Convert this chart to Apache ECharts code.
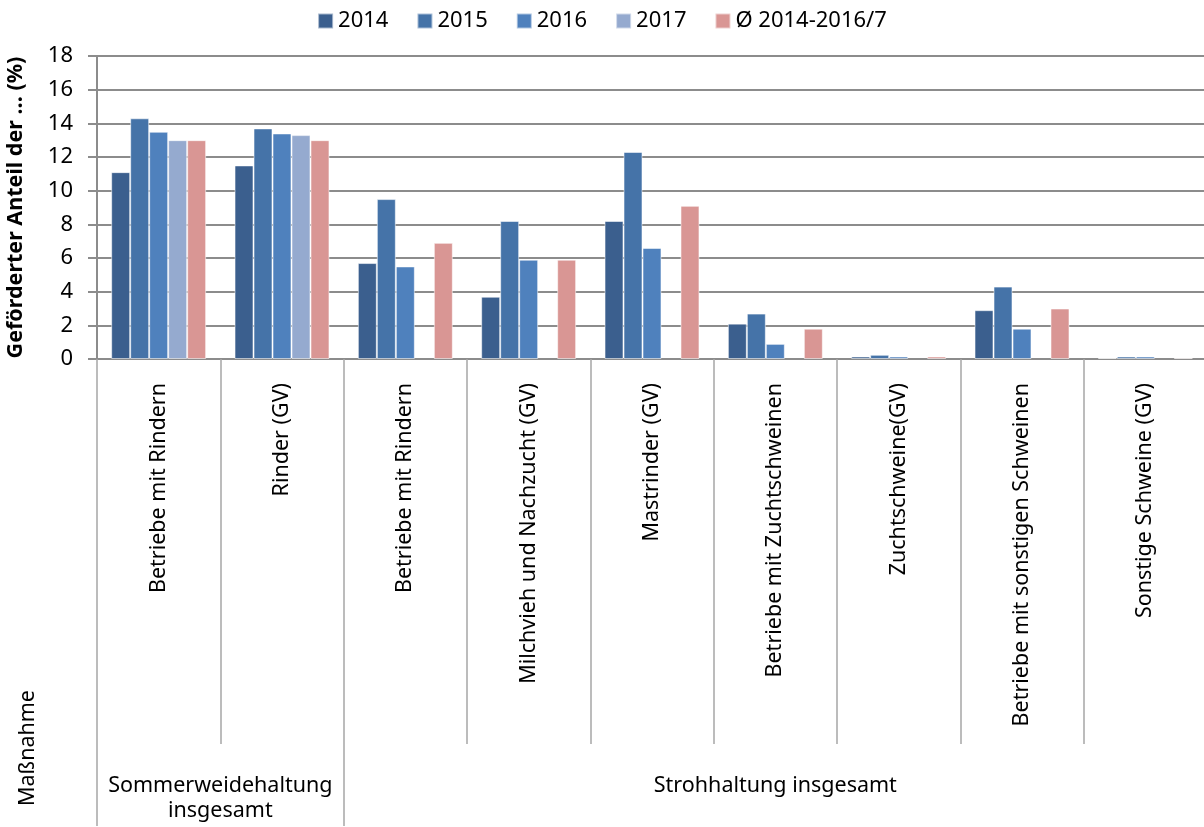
<!DOCTYPE html>
<html>
<head>
<meta charset="utf-8">
<script src="https://cdn.jsdelivr.net/npm/echarts@6/dist/echarts.min.js"></script>
<style>
  html, body { margin: 0; padding: 0; background: #fff; }
  #chart { width: 1204px; height: 827px; }
</style>
</head>
<body>
<div id="chart"></div>
<script>
  var categories = ['Betriebe mit Rindern', 'Rinder (GV)', 'Betriebe mit Rindern', 'Milchvieh und Nachzucht (GV)',
    'Mastrinder (GV)', 'Betriebe mit Zuchtschweinen', 'Zuchtschweine(GV)', 'Betriebe mit sonstigen Schweinen',
    'Sonstige Schweine (GV)'];
  var seriesNames = ['2014', '2015', '2016', '2017', 'Ø 2014-2016/7'];
  var v2014 = [11.1, 11.5, 5.7, 3.7, 8.2, 2.1, 0.15, 2.9, 0.06];
  var v2015 = [14.3, 13.7, 9.5, 8.2, 12.3, 2.7, 0.25, 4.3, 0.15];
  var v2016 = [13.5, 13.4, 5.5, 5.9, 6.6, 0.9, 0.15, 1.8, 0.15];
  var v2017 = [13.0, 13.3, null, null, null, null, null, null, null];
  var vAvg = [13.0, 13.0, 6.9, 5.9, 9.1, 1.8, 0.15, 3.0, 0.07];
  var groupNames = ['Sommerweidehaltung\ninsgesamt', 'Strohhaltung insgesamt'];
  var groupBounds = [0, 2, 9];
  var colors = ['#3B5F8E', '#4573A8', '#4F81BD', '#95AACF', '#D99694'];

  var fontFamily = 'Noto Sans, sans-serif';
  var gray = '#8c8c8c';

  var myChart = echarts.init(document.getElementById('chart'));

  var groupCenters = [];
  for (var i = 0; i < groupNames.length; i++) {
    groupCenters.push((groupBounds[i] + groupBounds[i + 1]) / 2);
  }

  var allValues = [v2014, v2015, v2016, v2017, vAvg];
  var series = allValues.map(function(vals, i) {
    return {
      name: seriesNames[i],
      type: 'bar',
      xAxisIndex: 0,
      barGap: 0,
      barCategoryGap: '23%',
      itemStyle: {
        color: colors[i],
        borderColor: 'rgba(255,255,255,0.55)',
        borderWidth: 1
      },
      data: vals
    };
  });

  myChart.setOption({
    animation: false,
    textStyle: { fontFamily: fontFamily },
    color: colors,
    legend: {
      top: 5,
      left: 'center',
      itemWidth: 15,
      itemHeight: 15,
      itemGap: 28,
      icon: 'rect',
      textStyle: { fontSize: 22, color: '#000', fontFamily: fontFamily },
      data: seriesNames
    },
    grid: {
      left: 97,
      right: -3,
      top: 56,
      height: 303,
      outerBoundsMode: 'none'
    },
    xAxis: [{
      type: 'category',
      data: categories,
      axisLine: { lineStyle: { color: gray, width: 2 } },
      axisTick: {
        show: true,
        interval: 0,
        length: 385,
        lineStyle: { color: '#a6a6a6', width: 1.5 }
      },
      axisLabel: {
        interval: 0,
        rotate: 90,
        margin: 24,
        fontSize: 21.5,
        color: '#000',
        fontFamily: fontFamily
      }
    }, {
      type: 'value',
      position: 'bottom',
      min: 0,
      max: 9,
      offset: 385,
      axisLine: { show: false },
      splitLine: { show: false },
      axisTick: {
        show: true,
        customValues: groupBounds,
        length: 82,
        lineStyle: { color: '#a6a6a6', width: 1.5 }
      },
      axisLabel: {
        customValues: groupCenters,
        margin: 29,
        fontSize: 21.5,
        lineHeight: 25,
        color: '#000',
        fontFamily: fontFamily,
        formatter: function(val) {
          for (var k = 0; k < groupCenters.length; k++) {
            if (Math.abs(groupCenters[k] - val) < 1e-6) return groupNames[k];
          }
          return '';
        }
      }
    }],
    yAxis: {
      type: 'value',
      min: 0,
      max: 18,
      interval: 2,
      name: 'Geförderter Anteil der … (%)',
      nameLocation: 'middle',
      nameGap: 70,
      nameTextStyle: { fontSize: 21.5, fontWeight: 'bold', color: '#000', fontFamily: fontFamily },
      axisLine: { show: true, lineStyle: { color: gray, width: 2 } },
      axisTick: { show: true, length: 9, lineStyle: { color: gray, width: 2 } },
      axisLabel: { fontSize: 22, color: '#000', margin: 24, fontFamily: fontFamily },
      splitLine: { lineStyle: { color: gray, width: 2 } }
    },
    graphic: [{
      type: 'text',
      left: 17,
      top: 690,
      rotation: Math.PI / 2,
      style: { text: 'Maßnahme', fontSize: 21.5, fill: '#000', fontFamily: fontFamily }
    }],
    series: series
  });
</script>
</body>
</html>
